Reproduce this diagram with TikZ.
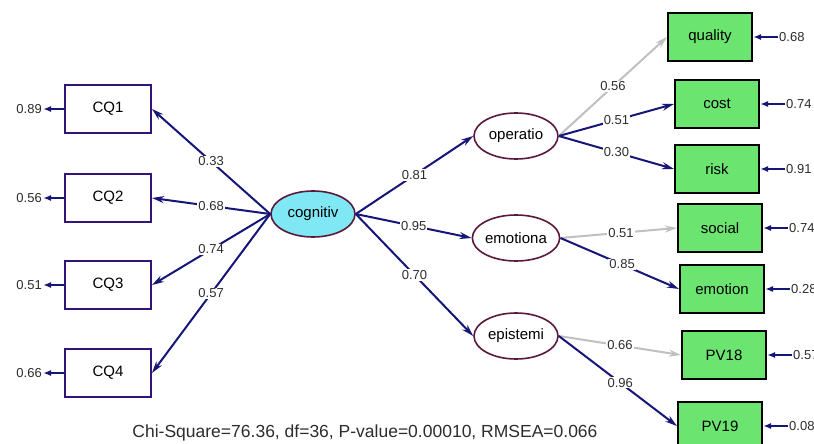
\documentclass[tikz,border=0pt]{standalone}
\usepackage{fontspec}
\setmainfont{Liberation Sans}
\usetikzlibrary{
	arrows.meta,
	positioning,
	shapes.geometric
}
\definecolor{pathblue}{RGB}{22,22,120}
\definecolor{pathgray}{RGB}{192,192,192}
\definecolor{boxpurple}{RGB}{50,20,120}
\definecolor{latborder}{RGB}{90,25,60}
\definecolor{latcyan}{RGB}{128,232,245}
\definecolor{obsgreen}{RGB}{108,228,112}
\definecolor{labgray}{RGB}{45,45,45}

\begin{document}
\begin{tikzpicture}[
		x=1pt, y=-1pt,
		obsL/.style={draw=boxpurple, line width=2pt, fill=white, minimum width=86pt, minimum height=48pt, inner sep=0pt, font=\fontsize{15}{17}\selectfont},
		obsR/.style={draw=black, line width=2pt, fill=obsgreen, minimum width=84pt, minimum height=48pt, inner sep=0pt, font=\fontsize{15}{17}\selectfont},
		lat/.style={ellipse, draw=latborder, line width=1.6pt, fill=white, minimum width=84pt, minimum height=46pt, inner sep=0pt, font=\fontsize{15}{17}\selectfont},
		err/.style={inner sep=1pt, text=labgray, font=\fontsize{13}{15}\selectfont},
		wt/.style={fill=white, inner sep=1pt, text=labgray, font=\fontsize{13}{15}\selectfont},
		arrow/.style={-{Stealth[length=12pt,width=7pt]}, line width=2pt, draw=pathblue},
		weak/.style={arrow, draw=pathgray},
		errarrow/.style={-{Latex[length=8pt,width=6pt]}, line width=2.4pt, draw=pathblue}
		]
		
		\fill[white] (0,0) rectangle (814,444);
		\useasboundingbox (0,0) rectangle (814,444);
		
		% =========================
		% Cognitive factor and its indicators
		% =========================
		\node[lat, fill=latcyan] (cog) at (313,214) {cognitiv};
		
		\node[obsL] (cq1) at (108,109) {CQ1};
		\node[obsL] (cq2) at (108,198) {CQ2};
		\node[obsL] (cq3) at (108,285) {CQ3};
		\node[obsL] (cq4) at (108,373) {CQ4};
		
		\node[err, left=21pt of cq1] (e1) {0.89};
		\node[err, left=21pt of cq2] (e2) {0.56};
		\node[err, left=21pt of cq3] (e3) {0.51};
		\node[err, left=21pt of cq4] (e4) {0.66};
		
		% =========================
		% Second-order factors
		% =========================
		\node[lat] (op) at (516,136) {operatio};
		\node[lat] (emo) at (516,238) {emotiona};
		\node[lat] (epi) at (516,336) {epistemi};
		
		% =========================
		% Right-hand indicators
		% =========================
		\node[obsR] (quality) at (710,37) {quality};
		\node[obsR] (cost) at (717,104) {cost};
		\node[obsR] (risk) at (717,169) {risk};
		\node[obsR] (social) at (720,228) {social};
		\node[obsR] (emotion) at (722,289) {emotion};
		\node[obsR] (pv18) at (724,355) {PV18};
		\node[obsR] (pv19) at (720,426) {PV19};
		
		\node[err, right=25pt of quality] (eq) {0.68};
		\node[err, right=25pt of cost] (ec) {0.74};
		\node[err, right=25pt of risk] (er) {0.91};
		\node[err, right=25pt of social] (es) {0.74};
		\node[err, right=25pt of emotion] (ee) {0.28};
		\node[err, right=25pt of pv18] (ep18) {0.57};
		\node[err, right=25pt of pv19] (ep19) {0.08};
		
		% =========================
		% Loadings
		% =========================
		\draw[arrow] (cog.west) -- node[wt] {0.33} (cq1.east);
		\draw[arrow] (cog.west) -- node[wt] {0.68} (cq2.east);
		\draw[arrow] (cog.west) -- node[wt] {0.74} (cq3.east);
		\draw[arrow] (cog.west) -- node[wt] {0.57} (cq4.east);
		
		\draw[arrow] (cog.east) -- node[wt] {0.81} (op.west);
		\draw[arrow] (cog.east) -- node[wt] {0.95} (emo.west);
		\draw[arrow] (cog.east) -- node[wt] {0.70} (epi.west);
		
		\draw[weak] (op.east) -- node[wt] {0.56} (quality.west);
		\draw[arrow] (op.east) -- node[wt] {0.51} (cost.west);
		\draw[arrow] (op.east) -- node[wt] {0.30} (risk.west);
		
		\draw[weak] (emo.east) -- node[wt, pos=0.52] {0.51} (social.west);
		\draw[arrow] (emo.east) -- node[wt, pos=0.52] {0.85} (emotion.west);
		
		\draw[weak] (epi.east) -- node[wt] {0.66} (pv18.west);
		\draw[arrow] (epi.east) -- node[wt, pos=0.52] {0.96} (pv19.west);
		
		% error terms
		\foreach \v/\e in {cq1/e1, cq2/e2, cq3/e3, cq4/e4}
		\draw[errarrow] (\v.west) -- (\e.east);
		\foreach \v/\e in {quality/eq, cost/ec, risk/er, social/es, emotion/ee, pv18/ep18, pv19/ep19}
		\draw[errarrow] (\e.west) -- (\v.east);
		
		% Fit statistics
		\node[text=labgray, font=\fontsize{17.5}{20}\selectfont] (fitstat) at (365,433) {Chi-Square=76.36, df=36, P-value=0.00010, RMSEA=0.066};
		
	\end{tikzpicture}
\end{document}
